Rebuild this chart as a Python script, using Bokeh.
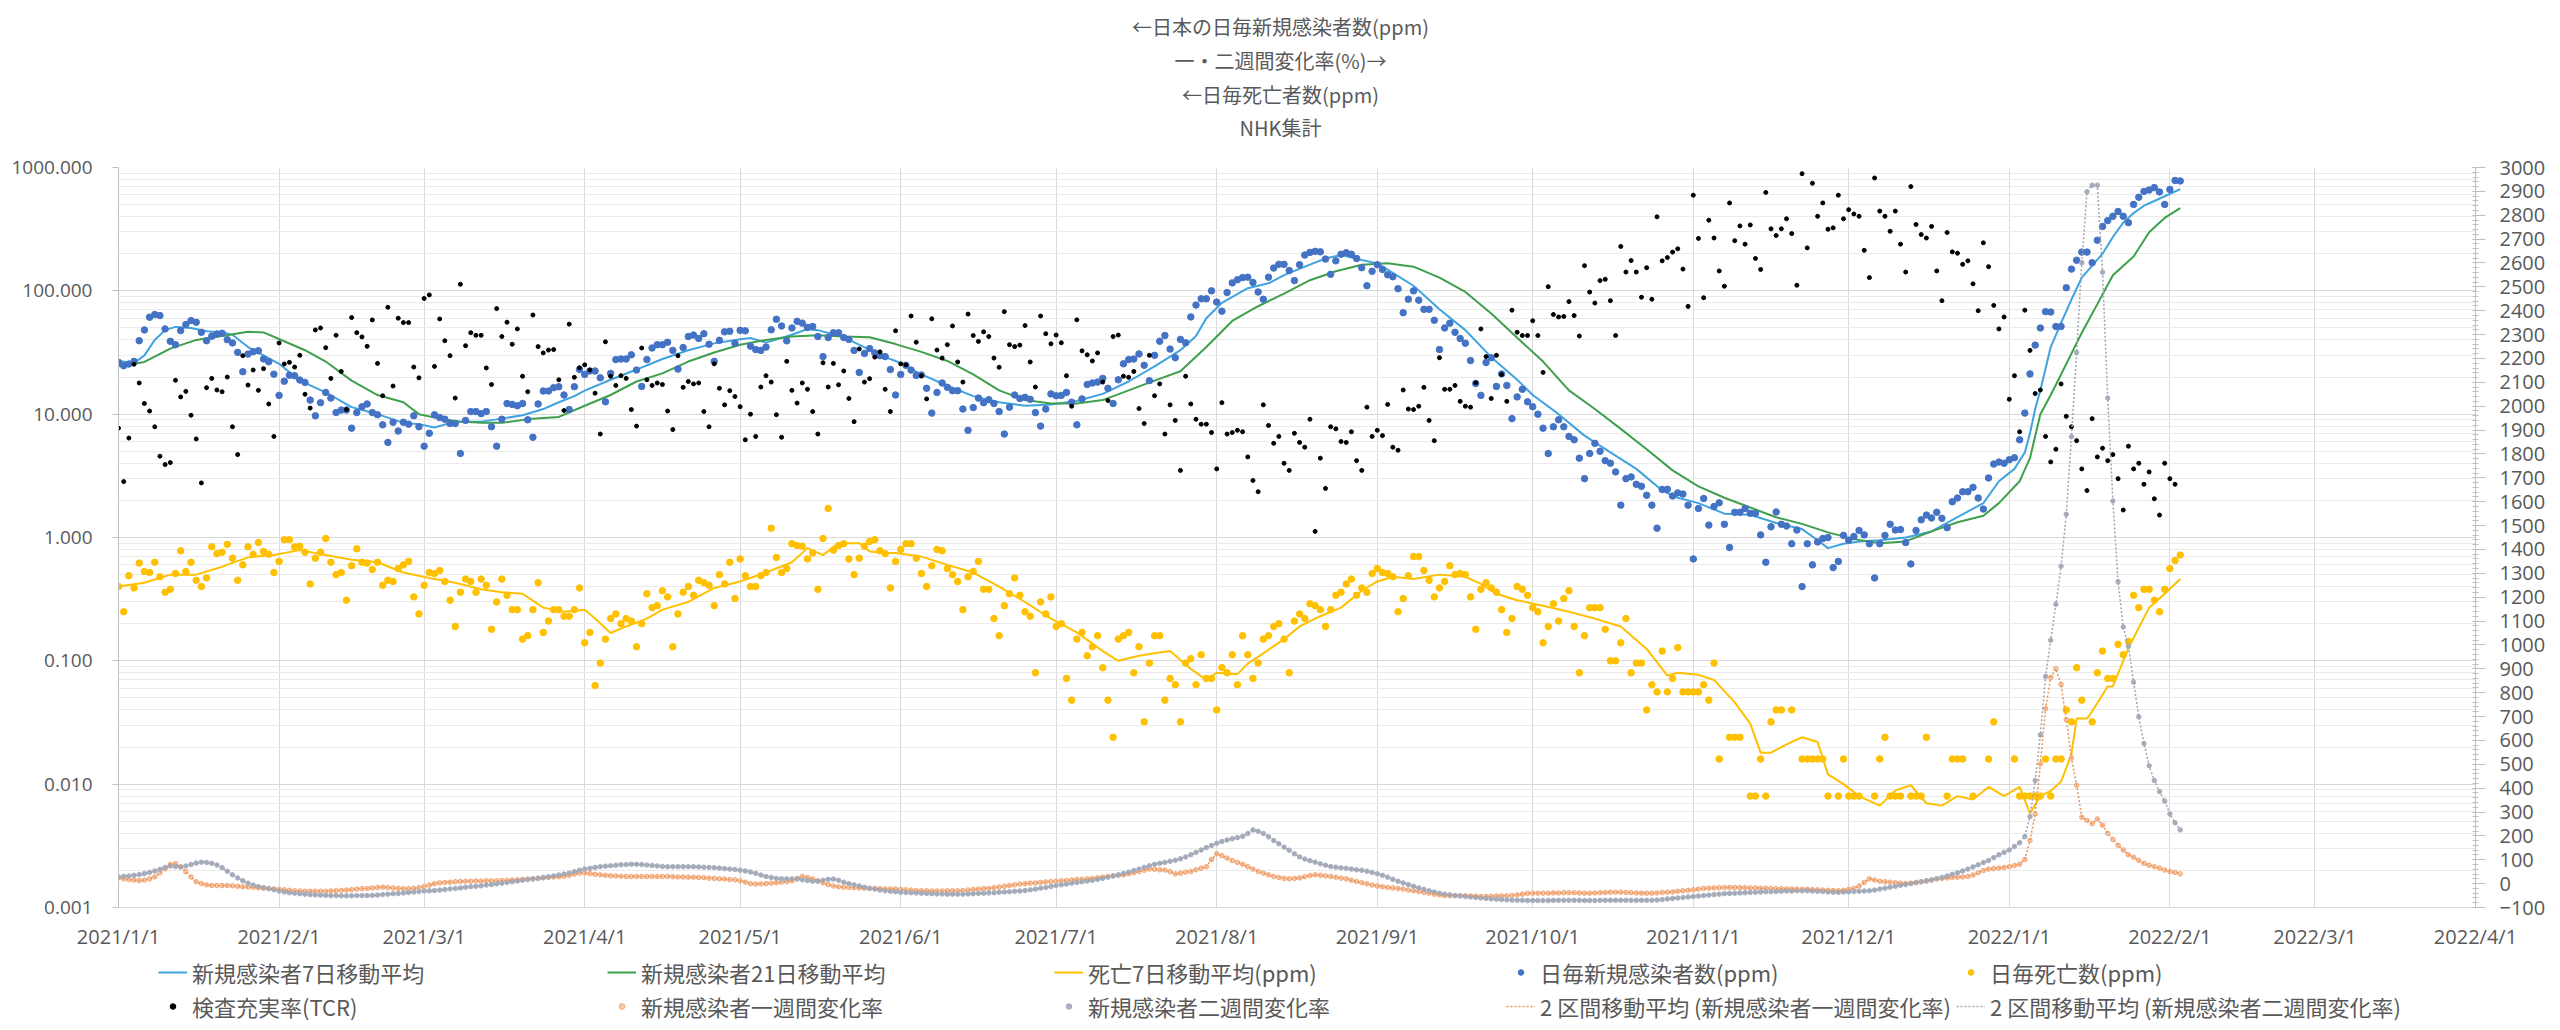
from datetime import date
import numpy as np
from bokeh.plotting import figure
from bokeh.layouts import column
from bokeh.core.properties import value
from bokeh.models import (Range1d, LinearAxis, LinearScale, FixedTicker, PrintfTickFormatter,
                          Legend, LegendItem)
from bokeh.embed import file_html
from bokeh.resources import INLINE

nan = float("nan")

# ---------------- data (day 0 = 2021/1/1) ----------------
month_labels = ["2021/1/1", "2021/2/1", "2021/3/1", "2021/4/1", "2021/5/1", "2021/6/1",
                "2021/7/1", "2021/8/1", "2021/9/1", "2021/10/1", "2021/11/1", "2021/12/1",
                "2022/1/1", "2022/2/1", "2022/3/1", "2022/4/1"]

title_lines = ["←日本の日毎新規感染者数(ppm)", "一・二週間変化率(%)→", "←日毎死亡者数(ppm)", "NHK集計"]

# 日毎新規感染者数(ppm)
cases = [
    26.3, 24.7, 25.5, 26.8, 39.4, 48.2, 61.1, 64.2, 63, 49.1,
    39, 36.6, 47.6, 53.3, 57.4, 55.6, 46.1, 39.4, 42.8, 44.7,
    45.3, 40.2, 37.8, 31.7, 22.1, 30.7, 32.1, 32.7, 28, 26.6,
    21.1, 14.2, 18.5, 20.7, 20.5, 18.9, 18.1, 13, 9.7, 12.4,
    15, 13.5, 10.3, 10.8, 10.8, 7.7, 10.3, 11.5, 12.1, 10.3,
    9.9, 8.2, 5.9, 8.6, 7.3, 8.6, 8.3, 9.7, 7.9, 5.5,
    7.0, 9.9, 9.4, 9.1, 8.4, 8.4, 4.8, 8.9, 10.5, 10.5,
    10.1, 10.5, 7.9, 5.5, 9.1, 12.2, 12.0, 11.7, 12.2, 9.0,
    6.5, 12.1, 15.4, 15.4, 16.4, 16.7, 14.3, 10.9, 16.7, 23,
    21, 22.4, 22.4, 19.7, 12.6, 21.4, 27.7, 28, 28, 30.3,
    22.8, 16.8, 27.7, 34.4, 36.6, 36.6, 38.3, 32.9, 23.2, 34.7,
    42.6, 43.8, 41.1, 44.9, 36.9, 26.8, 39.7, 46.5, 47, 37.6,
    47.8, 47.4, 35.6, 33.4, 32.9, 35, 48.3, 58.8, 51.9, 39.3,
    50, 56.6, 54.7, 50.5, 51.4, 42.6, 29.3, 41.8, 45.7, 45.7,
    41.8, 40.4, 32.9, 21.8, 31.1, 34, 31.4, 29.8, 29.3, 23,
    14.3, 21, 24.9, 22.8, 20.6, 20.8, 16.2, 10.2, 15, 17.9,
    16.5, 15.5, 15.5, 11.0, 7.4, 11.3, 13.5, 12.4, 13.1, 12.2,
    10.5, 6.9, 11.4, 14.3, 13.4, 13.7, 13.2, 10.3, 8.0, 11.0,
    14.6, 14.1, 14.2, 15, 12.5, 8.2, 13.3, 17.4, 17.9, 18.2,
    19.5, 16.2, 12.2, 19, 25.6, 27.7, 28, 30.8, 24.9, 18.7,
    30, 39, 43.4, 33.7, 28.7, 40.4, 37.9, 61.4, 76.7, 86.2,
    86.2, 100, 81, 68.4, 96.9, 116, 123, 128, 129, 117,
    97.8, 85.5, 129, 153, 164, 164, 146, 121, 163, 195,
    205, 209, 207, 181, 136, 175, 198, 204, 198, 183,
    154, 110, 144, 163, 149, 135, 130, 104, 66.5, 85.5,
    100, 84, 70.8, 70.8, 57.7, 33.4, 50, 54.7, 46.1, 41.1,
    37.6, 27.2, 17.7, 14.2, 26.2, 28.7, 16.8, 21.2, 17.1, 9.2,
    13.8, 15.9, 12.6, 11.5, 10, 7.7, 4.8, 7.9, 9.0, 7.9,
    6.6, 6.2, 4.4, 3.0, 4.8, 5.8, 5.0, 4.2, 4.0, 3.4,
    1.83, 3.0, 3.1, 2.7, 2.6, 2.2, 1.83, 1.19, 2.45, 2.46,
    2.17, 2.3, 2.25, 1.83, 0.67, 1.72, 2.07, 1.26, 1.78, 1.91,
    1.28, 0.83, 1.6, 1.6, 1.72, 1.57, 1.57, 1.05, 0.63, 1.22,
    1.61, 1.28, 1.24, 0.89, 1.15, 0.40, 0.89, 0.60, 0.92, 0.98,
    1.0, 0.57, 0.64, 1.04, 0.95, 1.02, 1.14, 1.05, 0.89, 0.47,
    0.89, 1.04, 1.28, 1.15, 1.16, 0.91, 0.61, 1.14, 1.39, 1.52,
    1.44, 1.6, 1.43, 1.2, 1.95, 2.09, 2.35, 2.35, 2.55, 2.09,
    1.70, 3.04, 3.94, 4.09, 4.0, 4.27, 4.43, 6.2, 10.2, 21.2,
    36.3, 50, 67.8, 67.3, 51.4, 51.4, 106, 150, 177, 206,
    206, 169, 257, 333, 371, 402, 440, 402, 357, 502,
    574, 640, 657, 687, 634, 502, 663, 785, 778,
]

# 日毎死亡数(ppm)
deaths = [
    0.40, 0.25, 0.49, 0.39, 0.62, 0.53, 0.52, 0.63, 0.48, 0.36,
    0.38, 0.51, 0.78, 0.53, 0.63, 0.45, 0.40, 0.47, 0.84, 0.74,
    0.76, 0.88, 0.68, 0.45, 0.60, 0.84, 0.73, 0.91, 0.77, 0.73,
    0.52, 0.64, 0.96, 0.96, 0.84, 0.85, 0.76, 0.42, 0.68, 0.76,
    0.98, 0.63, 0.50, 0.52, 0.31, 0.59, 0.81, 0.63, 0.62, 0.55,
    0.63, 0.41, 0.45, 0.44, 0.56, 0.60, 0.64, 0.33, 0.24, 0.41,
    0.52, 0.51, 0.54, 0.44, 0.31, 0.19, 0.36, 0.46, 0.44, 0.36,
    0.46, 0.41, 0.18, 0.30, 0.46, 0.34, 0.26, 0.26, 0.15, 0.16,
    0.26, 0.43, 0.17, 0.21, 0.26, 0.26, 0.23, 0.23, 0.26, 0.39,
    0.14, 0.17, 0.063, 0.096, 0.15, 0.22, 0.24, 0.20, 0.22, 0.21,
    0.13, 0.20, 0.35, 0.27, 0.28, 0.37, 0.33, 0.13, 0.24, 0.36,
    0.40, 0.34, 0.45, 0.43, 0.41, 0.28, 0.50, 0.42, 0.63, 0.32,
    0.67, 0.49, 0.40, 0.40, 0.49, 0.52, 1.19, 0.69, 0.52, 0.56,
    0.89, 0.86, 0.85, 0.67, 0.75, 0.38, 0.98, 1.72, 0.79, 0.86,
    0.89, 0.67, 0.50, 0.68, 0.85, 0.93, 0.96, 0.78, 0.74, 0.39,
    0.64, 0.80, 0.89, 0.89, 0.68, 0.51, 0.40, 0.59, 0.80, 0.78,
    0.56, 0.50, 0.44, 0.26, 0.48, 0.53, 0.64, 0.38, 0.38, 0.22,
    0.16, 0.28, 0.35, 0.47, 0.34, 0.25, 0.23, 0.08, 0.30, 0.24,
    0.33, 0.19, 0.20, 0.072, 0.048, 0.15, 0.17, 0.11, 0.13, 0.16,
    0.088, 0.048, 0.024, 0.15, 0.16, 0.17, 0.08, 0.13, 0.032, 0.096,
    0.16, 0.16, 0.048, 0.072, 0.064, 0.032, 0.096, 0.104, 0.064, 0.112,
    0.072, 0.072, 0.040, 0.088, 0.08, 0.112, 0.064, 0.16, 0.112, 0.072,
    0.096, 0.15, 0.16, 0.19, 0.20, 0.15, 0.08, 0.21, 0.24, 0.22,
    0.29, 0.28, 0.26, 0.19, 0.26, 0.34, 0.36, 0.42, 0.46, 0.34,
    0.39, 0.36, 0.51, 0.56, 0.52, 0.51, 0.48, 0.25, 0.32, 0.49,
    0.70, 0.70, 0.54, 0.45, 0.33, 0.39, 0.44, 0.59, 0.50, 0.51,
    0.50, 0.33, 0.18, 0.38, 0.43, 0.39, 0.36, 0.26, 0.17, 0.22,
    0.40, 0.38, 0.34, 0.27, 0.25, 0.14, 0.19, 0.29, 0.21, 0.32,
    0.37, 0.19, 0.08, 0.16, 0.27, 0.27, 0.27, 0.18, 0.10, 0.10,
    0.14, 0.22, 0.08, 0.096, 0.096, 0.040, 0.064, 0.056, 0.12, 0.056,
    0.072, 0.128, 0.056, 0.056, 0.056, 0.056, 0.064, 0.048, 0.096, 0.016,
    nan, 0.024, 0.024, 0.024, nan, 0.008, 0.008, 0.016, 0.008, 0.032,
    0.04, 0.04, nan, 0.04, nan, 0.016, 0.016, 0.016, 0.016, 0.016,
    0.008, nan, 0.008, 0.016, 0.008, 0.008, 0.008, nan, nan, 0.008,
    0.016, 0.024, 0.008, 0.008, 0.008, nan, 0.008, 0.008, 0.008, 0.024,
    nan, nan, nan, 0.008, 0.016, 0.016, 0.016, nan, 0.008, nan,
    nan, 0.016, 0.032, nan, nan, nan, 0.016, 0.008, 0.008, 0.008,
    0.008, 0.008, 0.016, 0.008, 0.016, 0.016, 0.04, 0.032, 0.088, 0.048,
    nan, 0.032, 0.08, 0.12, 0.072, 0.072, 0.136, 0.112, 0.144, 0.34,
    0.27, 0.38, 0.38, 0.31, 0.25, 0.38, 0.56, 0.65, 0.72,
]

# 検査充実率(TCR)
tcr = [
    7.7, 2.84, 6.4, 25.4, 17.9, 12.2, 10.6, 7.9, 4.56, 3.9,
    4.05, 18.8, 13.8, 15.3, 9.8, 6.3, 2.77, 16.4, 19.5, 15.7,
    15.2, 20, 7.9, 4.7, 29.8, 17.2, 22.8, 15.6, 23.4, 12.1,
    6.6, 37.8, 25.5, 26.3, 24.1, 30, 14.5, 11.2, 48.2, 50,
    34.6, 19.5, 43.6, 22.2, 10.9, 60.7, 45.8, 42.3, 35.5, 58.1,
    25.8, 14.1, 73.6, 16.9, 60, 55.3, 55.3, 24.1, 19.7, 86.7,
    92.7, 24.4, 59.2, 39.4, 29.8, 13.5, 113, 35.9, 45.8, 43.6,
    43.6, 23.7, 17.4, 71.8, 42.6, 55.7, 36.9, 49.1, 20.3, 15.2,
    63.7, 35.3, 31.4, 33.1, 33.4, 19, 10.7, 53.7, 19.9, 23.8,
    25.1, 22.8, 14.8, 6.9, 38.6, 20.3, 17.1, 20.5, 19.5, 10.9,
    8.0, 34.4, 19, 17.1, 17.9, 17.4, 10.6, 7.5, 29.8, 16.5,
    18.4, 17.6, 17.9, 10.5, 7.9, 25.6, 16.2, 11.9, 15.5, 13.9,
    11.5, 6.2, 10, 6.6, 16.6, 20.5, 18.2, 9.9, 6.5, 26.8,
    15.6, 12.3, 17.9, 15.9, 10.5, 6.9, 26.1, 16.6, 25.8, 17.3,
    22.4, 13.4, 8.7, 33.8, 18.2, 19.4, 29, 32, 15.9, 10.5,
    47.4, 25.6, 25.1, 62.5, 38.3, 20.5, 13.3, 59.3, 33.1, 28.5,
    36.6, 51.9, 26.5, 18.2, 64.8, 43.4, 38.9, 46.5, 42.6, 28.5,
    24, 67.8, 36.6, 35.3, 36.3, 52.3, 26.5, 16.6, 62.5, 44.9,
    37.2, 43.8, 37.9, 20.5, 11.6, 58.2, 32.6, 30.3, 27, 31.4,
    18.2, 12.9, 42.6, 43.8, 20.3, 19.9, 22.2, 11.1, 8.4, 30,
    14.1, 17.6, 6.9, 11.9, 8.9, 3.5, 20.3, 12.1, 9.1, 8.3,
    8.3, 7.1, 3.6, 12.4, 6.9, 7.1, 7.4, 7.2, 4.5, 2.9,
    2.35, 11.9, 8.1, 5.8, 6.6, 4.0, 3.5, 7.0, 5.9, 5.4,
    9.1, 1.12, 4.4, 2.5, 7.9, 7.6, 6.0, 5.9, 7.2, 4.2,
    3.5, 11.4, 6.6, 7.4, 6.7, 12, 5.4, 5.1, 15.7, 11,
    10.9, 11.6, 16.5, 8.9, 6.1, 28.7, 15.9, 15.9, 17.1, 12.7,
    11.6, 11.4, 18, 49.1, 29.3, 13.4, 30, 21, 12.7, 69.7,
    46.1, 43.4, 43.4, 57.2, 43.4, 21.8, 108, 64.3, 61.4, 62,
    81.8, 63, 43, 160, 97.7, 79.6, 121, 124, 83.2, 43.4,
    229, 142, 176, 142, 88.8, 154, 85.5, 398, 175, 186,
    206, 219, 150, 74.8, 596, 266, 87.9, 374, 268, 145,
    109, 516, 255, 336, 239, 342, 183, 149, 628, 318,
    281, 318, 384, 291, 111, 891, 223, 745, 402, 516,
    316, 324, 596, 384, 455, 420, 402, 213, 128, 822,
    443, 402, 304, 443, 239, 142, 700, 345, 286, 268,
    333, 145, 83.2, 297, 207, 202, 164, 175, 114, 69,
    245, 157, 76.2, 49.1, 61.4, 13.2, 20.5, 7.2, 69.7, 32.9,
    14.7, 15.7, 6.6, 4.1, 5.2, 17.6, 9.6, 7.9, 6.1, 3.6,
    2.4, 9.2, 4.5, 5.3, 4.2, 4.7, 3.0, 1.67, 5.5, 3.6,
    4.0, 2.7, 3.4, 2.06, 1.52, 4.0, 3.0, 2.7, nan,
]

# 新規感染者一週間変化率 (%)
rate1w = [
    24, 20, 17, 15, 13, 15, 20, 28, 45, 62,
    80, 84, 70, 50, 28, 8, 0, -5, -8, -8,
    -8, -8, -9, -11, -13, -14, -16, -17, -19, -20,
    -22, -24, -26, -28, -30, -31, -32, -32, -32, -32,
    -32, -31, -30, -28, -27, -25, -23, -21, -20, -18,
    -16, -15, -16, -18, -20, -21, -21, -20, -17, -12,
    -6, 0, 3, 5, 6, 8, 9, 10, 10, 11,
    11, 12, 12, 12, 13, 14, 15, 16, 18, 19,
    20, 22, 24, 26, 28, 29, 31, 35, 40, 44,
    45, 42, 39, 37, 35, 33, 32, 31, 30, 30,
    30, 30, 30, 30, 30, 30, 30, 29, 28, 28,
    27, 27, 26, 25, 23, 22, 20, 19, 17, 16,
    12, 6, 0, -2, -1, 0, 2, 4, 6, 8,
    12, 22, 30, 26, 20, 12, 4, -4, -10, -13,
    -15, -16, -17, -18, -19, -20, -20, -21, -22, -22,
    -23, -24, -26, -27, -29, -30, -30, -31, -31, -31,
    -30, -30, -30, -29, -27, -25, -23, -21, -20, -17,
    -14, -11, -8, -5, -2, 0, 2, 3, 5, 7,
    9, 10, 12, 13, 15, 17, 18, 20, 22, 25,
    27, 30, 33, 35, 37, 41, 46, 51, 56, 61,
    60, 58, 57, 50, 41, 44, 48, 51, 58, 65,
    71, 101, 125, 117, 107, 97, 89, 81, 71, 61,
    51, 44, 37, 30, 26, 22, 20, 22, 24, 29,
    34, 37, 35, 32, 30, 27, 23, 20, 14, 9,
    4, -1, -6, -10, -13, -16, -18, -20, -23, -27,
    -30, -33, -37, -40, -44, -47, -50, -50, -50, -50,
    -51, -52, -53, -54, -54, -53, -52, -52, -51, -50,
    -47, -44, -41, -40, -40, -40, -40, -39, -39, -38,
    -38, -38, -39, -40, -40, -39, -38, -37, -36, -36,
    -36, -37, -38, -39, -40, -40, -40, -39, -37, -36,
    -35, -32, -30, -28, -26, -23, -20, -19, -18, -17,
    -16, -16, -16, -17, -17, -18, -18, -19, -19, -20,
    -21, -21, -22, -22, -23, -24, -24, -25, -26, -27,
    -28, -29, -30, -28, -24, -20, -10, 5, 20, 15,
    10, 8, 6, 4, 2, 0, 2, 5, 8, 11,
    15, 20, 22, 24, 26, 27, 28, 30, 36, 46,
    55, 61, 63, 65, 68, 71, 76, 81, 101, 181,
    292, 502, 733, 864, 900, 834, 687, 526, 412, 278,
    265, 251, 271, 245, 211, 185, 161, 141, 121, 111,
    97, 85, 77, 71, 65, 57, 51, 47, 41,
]

# 新規感染者二週間変化率 (%)
rate2w = [
    28, 30, 32, 35, 38, 42, 47, 53, 60, 68,
    74, 72, 70, 74, 80, 86, 90, 89, 85, 78,
    67, 52, 37, 24, 12, 2, -6, -12, -17, -21,
    -26, -31, -35, -38, -40, -42, -44, -46, -47, -48,
    -49, -50, -50, -51, -51, -51, -50, -50, -50, -49,
    -48, -46, -44, -42, -41, -39, -37, -35, -33, -31,
    -30, -29, -27, -25, -22, -20, -18, -15, -13, -11,
    -9, -6, -4, -1, 2, 5, 8, 11, 14, 17,
    20, 23, 26, 29, 32, 36, 40, 44, 50, 56,
    61, 64, 68, 71, 73, 75, 77, 79, 80, 81,
    81, 80, 78, 76, 74, 72, 71, 71, 71, 71,
    71, 71, 70, 69, 68, 67, 65, 63, 61, 59,
    56, 53, 49, 43, 36, 30, 26, 22, 20, 20,
    20, 19, 16, 13, 10, 10, 14, 18, 19, 14,
    6, 0, -5, -10, -15, -20, -23, -27, -30, -32,
    -34, -36, -37, -38, -39, -40, -41, -42, -43, -43,
    -44, -44, -44, -44, -43, -42, -41, -40, -39, -38,
    -36, -35, -34, -32, -31, -29, -26, -23, -19, -16,
    -12, -8, -5, -2, 2, 5, 8, 11, 14, 18,
    22, 27, 32, 37, 42, 48, 55, 61, 68, 75,
    81, 85, 89, 94, 98, 104, 112, 121, 131, 141,
    151, 160, 169, 177, 183, 188, 193, 198, 210, 225,
    219, 210, 196, 181, 167, 153, 140, 125, 112, 103,
    96, 90, 83, 77, 72, 69, 66, 64, 61, 58,
    56, 52, 47, 41, 35, 27, 18, 10, 3, -4,
    -11, -18, -24, -30, -35, -40, -44, -47, -50, -52,
    -54, -56, -58, -60, -62, -64, -65, -67, -68, -69,
    -70, -70, -71, -71, -71, -71, -71, -70, -70, -70,
    -70, -70, -70, -71, -71, -71, -70, -70, -70, -70,
    -70, -70, -70, -70, -70, -70, -70, -69, -67, -64,
    -62, -60, -58, -56, -54, -52, -50, -48, -46, -44,
    -42, -41, -40, -39, -38, -37, -36, -35, -34, -34,
    -33, -32, -31, -31, -30, -30, -30, -31, -32, -33,
    -35, -36, -36, -35, -34, -33, -32, -31, -30, -27,
    -23, -19, -15, -11, -7, -4, 0, 4, 8, 12,
    16, 20, 26, 32, 39, 46, 53, 61, 70, 79,
    88, 97, 109, 121, 131, 141, 156, 171, 197, 281,
    432, 623, 868, 1020, 1170, 1330, 1547, 1872, 2225, 2601,
    2898, 2926, 2926, 2561, 2034, 1603, 1265, 1075, 994, 844,
    699, 587, 494, 432, 386, 346, 292, 255, 225,
]

# 新規感染者7日移動平均 (day, ppm)
ma7_days = [0, 3, 5, 7, 9, 11, 14, 17, 20, 22, 25, 28, 31, 35, 40, 45, 50, 55, 58, 61,
            65, 70, 74, 78, 82, 85, 88, 90, 95, 100, 105, 110, 115, 120, 122, 125, 130, 133,
            135, 140, 145, 148, 150, 155, 160, 165, 170, 175, 180, 185, 190, 195, 200, 205,
            208, 210, 213, 218, 222, 225, 230, 233, 236, 240, 243, 246, 250, 255, 260, 265,
            270, 273, 278, 283, 288, 293, 298, 301, 305, 310, 315, 320, 325, 328, 330, 333,
            336, 340, 345, 350, 355, 360, 363, 366, 368, 369, 370, 371, 373, 375, 377, 379,
            381, 383, 385, 387, 389, 391, 393, 395, 398]
ma7 = [27, 26, 30, 40, 48, 51, 50, 47, 46, 44, 35, 30, 25.6, 18.7, 15, 11.4, 10, 8.5, 8.3, 7.8,
       8.7, 8.7, 9.2, 9.8, 11, 12.5, 14, 15.5, 19, 23, 28, 33, 37.5, 40.5, 41.5, 38, 44, 49,
       48, 42, 33.4, 29, 27, 21, 17, 14, 12.5, 11.7, 12, 12.8, 14.6, 18.4, 24.4, 33,
       43, 60, 80, 105, 115, 134, 163, 183, 195, 178, 167, 140, 110, 71, 48, 29,
       19, 14.3, 10, 6.7, 4.9, 3.6, 2.4, 2.1, 1.9, 1.56, 1.53, 1.31, 1.17, 0.95, 0.82, 0.89,
       0.93, 0.95, 1.0, 1.12, 1.46, 1.9, 2.86, 3.6, 4.9, 7, 11, 15.6, 35, 55, 85, 128,
       160, 200, 273, 357, 427, 490, 535, 585, 668]

# 新規感染者21日移動平均 (day, ppm)
ma21_days = [0, 5, 10, 15, 20, 25, 28, 32, 36, 40, 45, 50, 55, 58, 62, 66, 70, 74, 80, 85,
             90, 95, 100, 105, 110, 115, 120, 125, 130, 135, 140, 145, 148, 150, 155, 160,
             165, 170, 175, 180, 185, 190, 195, 200, 205, 210, 215, 220, 225, 230, 235, 240,
             245, 250, 255, 260, 265, 270, 275, 280, 285, 290, 295, 300, 305, 310, 315, 320,
             325, 330, 335, 340, 345, 350, 355, 360, 363, 367, 369, 371, 373, 375, 379, 382,
             385, 389, 392, 395, 398]
ma21 = [24.4, 26.5, 34, 40, 43, 46.5, 46, 39, 33, 26.7, 18.7, 14.3, 12.5, 10, 9.2, 8.7, 8.5, 8.5, 9.2, 9.5,
        11.7, 14.3, 18.4, 21.4, 26.7, 31.6, 36.6, 40, 42.6, 43.7, 42.6, 42, 39, 37, 32, 27,
        21, 15.6, 13, 12.2, 12.2, 13, 15.6, 18.7, 22.3, 35, 57, 75, 95, 122, 144, 163,
        167, 157, 128, 98, 65.5, 41.7, 26.7, 15.6, 11, 7.6, 5.2, 3.5, 2.6, 2.1, 1.75, 1.46,
        1.29, 1.1, 0.97, 0.9, 0.93, 1.12, 1.33, 1.5, 1.9, 2.86, 4.4, 10, 14.3, 21, 45.7, 78,
        134, 190, 299, 390, 468]

# 死亡7日移動平均(ppm) (day, ppm)
dma7_days = [0, 5, 10, 15, 20, 25, 30, 35, 40, 45, 50, 55, 60, 65, 70, 74, 78, 82, 86, 90,
             92, 95, 98, 102, 105, 110, 115, 120, 125, 130, 133, 136, 139, 143, 145, 148, 150,
             155, 160, 165, 170, 175, 180, 185, 190, 193, 197, 200, 203, 207, 210, 212, 216,
             218, 221, 225, 228, 232, 236, 240, 243, 246, 250, 255, 260, 263, 266, 270, 275,
             280, 285, 290, 295, 299, 301, 305, 308, 312, 315, 317, 319, 321, 323, 325, 328,
             330, 333, 336, 340, 343, 346, 349, 352, 355, 358, 361, 364, 367, 369, 371, 373,
             375, 377, 378, 380, 381, 384, 385, 388, 392, 395, 398]
dma7 = [0.40, 0.43, 0.5, 0.5, 0.58, 0.69, 0.72, 0.79, 0.72, 0.66, 0.63, 0.52, 0.47, 0.43, 0.38, 0.36, 0.35, 0.27, 0.25, 0.26,
        0.22, 0.168, 0.19, 0.22, 0.26, 0.3, 0.39, 0.44, 0.52, 0.63, 0.82, 0.72, 0.9, 0.9, 0.77, 0.75, 0.75,
        0.7, 0.6, 0.52, 0.4, 0.3, 0.22, 0.17, 0.12, 0.1, 0.11, 0.115, 0.12, 0.086, 0.07, 0.08, 0.078,
        0.095, 0.115, 0.15, 0.19, 0.23, 0.27, 0.37, 0.44, 0.48, 0.46, 0.5, 0.48, 0.42, 0.35, 0.31, 0.28,
        0.25, 0.22, 0.19, 0.125, 0.076, 0.08, 0.077, 0.07, 0.046, 0.031, 0.018, 0.018, 0.02, 0.022, 0.024, 0.022,
        0.012, 0.01, 0.008, 0.0067, 0.0089, 0.0098, 0.007, 0.0067, 0.008, 0.0075, 0.0095, 0.008, 0.0095, 0.0058, 0.008, 0.0088,
        0.0105, 0.0175, 0.034, 0.034, 0.039, 0.062, 0.062, 0.127, 0.27, 0.35, 0.46]

N = 399
for arr in (cases, deaths, tcr, rate1w, rate2w):
    assert len(arr) == N, len(arr)
assert len(ma7_days) == len(ma7), (len(ma7_days), len(ma7))
assert len(ma21_days) == len(ma21), (len(ma21_days), len(ma21))
assert len(dma7_days) == len(dma7), (len(dma7_days), len(dma7))

# ---------------- layout constants (page pixels) ----------------
def day_of(label):
    y, m, d = (int(s) for s in label.split("/"))
    return (date(y, m, d) - date(2021, 1, 1)).days

month_days = [day_of(s) for s in month_labels]
days = np.arange(N)

FONT_NUM = "Open Sans"
FONT_JP = "Noto Sans CJK JP"
TXT = "#595959"
GRID = "#D9D9D9"
AXIS = "#BFBFBF"

W = 2560
TITLE_H = 152           # top strip holding the four title lines
FRAME_L, FRAME_R = 118, 2475
FRAME_T, FRAME_B = 167, 907
MAIN_BOTTOM = 957       # page y where the main figure ends
LEG_H = 1030 - MAIN_BOTTOM
BL, BR = FRAME_L, W - FRAME_R   # shared left / right borders (frames line up)

C_MA7 = "#3FA3E0"
C_MA21 = "#3E9F4C"
C_Y = "#FFC000"
C_BLUE = "#4472C4"
C_GRAY = "#A7AFBF"
C_OR_FILL = "#F8CBAD"
C_OR_LINE = "#F2A470"
C_T1 = "#E8935A"
C_T2 = "#9EA3AD"

# ---------------- title strip ----------------
pt = figure(width=W, height=TITLE_H, x_range=Range1d(FRAME_L, FRAME_R), y_range=Range1d(0, TITLE_H),
            output_backend="svg", toolbar_location=None,
            min_border_left=BL, min_border_right=BR, min_border_top=0, min_border_bottom=0,
            x_axis_location=None, y_axis_location=None)
pt.outline_line_color = None
pt.grid.grid_line_color = None
title_centers = [26, 60, 94, 127]
pt.text(x=[1280] * 4, y=[TITLE_H - c for c in title_centers], text=title_lines,
        text_font=value(FONT_JP), text_font_size=value("20px"), text_color=TXT,
        text_align="center", text_baseline="middle")

# ---------------- main chart ----------------
main_h = MAIN_BOTTOM - TITLE_H
p = figure(width=W, height=main_h, y_axis_type="log",
           x_range=Range1d(0, month_days[-1]), y_range=Range1d(0.001, 1000),
           output_backend="svg", toolbar_location=None,
           min_border_left=BL, min_border_right=BR,
           min_border_top=FRAME_T - TITLE_H, min_border_bottom=MAIN_BOTTOM - FRAME_B)
p.outline_line_color = None
p.extra_y_ranges = {"rate": Range1d(-100, 3000)}
p.extra_y_scales = {"rate": LinearScale()}

xa = p.xaxis[0]
xa.ticker = FixedTicker(ticks=month_days)
xa.major_label_overrides = {d: s for d, s in zip(month_days, month_labels)}
xa.axis_line_color = GRID
xa.major_tick_in = 0
xa.major_tick_out = 0
xa.minor_tick_line_color = None
xa.major_label_standoff = 15
xa.major_label_text_font = FONT_NUM
xa.major_label_text_font_size = "20px"
xa.major_label_text_color = TXT
p.xgrid.grid_line_color = GRID

decades = [0.001, 0.01, 0.1, 1, 10, 100, 1000]
minor = [k * d for d in decades[:-1] for k in range(2, 10)]
ya = p.yaxis[0]
ya.ticker = FixedTicker(ticks=decades, minor_ticks=minor)
ya.formatter = PrintfTickFormatter(format="%.3f")
ya.axis_line_color = AXIS
ya.major_tick_line_color = AXIS
ya.major_tick_in = 0
ya.major_tick_out = 6
ya.minor_tick_line_color = None
ya.major_label_standoff = 20
ya.major_label_text_font = FONT_NUM
ya.major_label_text_font_size = "19px"
ya.major_label_text_color = TXT
p.ygrid.grid_line_color = GRID
p.ygrid.minor_grid_line_color = "#EAEAEA"

ra = LinearAxis(y_range_name="rate",
                ticker=FixedTicker(ticks=list(range(-100, 3001, 100)),
                                   minor_ticks=list(range(-100, 3001, 20))))
ra.axis_line_color = AXIS
ra.major_tick_line_color = AXIS
ra.minor_tick_line_color = AXIS
ra.major_tick_in = 3
ra.major_tick_out = 10
ra.minor_tick_in = 3
ra.minor_tick_out = 3
ra.major_label_standoff = 14
ra.major_label_text_font = FONT_NUM
ra.major_label_text_font_size = "20px"
ra.major_label_text_color = TXT
p.add_layout(ra, "right")

p.line(ma7_days, ma7, line_color=C_MA7, line_width=2)
p.line(ma21_days, ma21, line_color=C_MA21, line_width=2)
p.line(dma7_days, dma7, line_color=C_Y, line_width=2)
p.scatter(days, np.array(cases, float), size=6.5, fill_color=C_BLUE, line_color=C_BLUE)
p.scatter(days, np.array(deaths, float), size=6.5, fill_color=C_Y, line_color=C_Y)
p.scatter(days, np.array(tcr, float), size=4, fill_color="black", line_color="black")
p.scatter(days, rate1w, size=4.5, fill_color=C_OR_FILL, line_color=C_OR_LINE,
          line_width=1, y_range_name="rate")
p.scatter(days, rate2w, size=4.5, fill_color=C_GRAY, line_color=C_GRAY, y_range_name="rate")
p.line(days, rate1w, line_color=C_T1, line_width=1.5, line_dash="2 2", y_range_name="rate")
p.line(days, rate2w, line_color=C_T2, line_width=1.5, line_dash="2 2", y_range_name="rate")

# ---------------- legend strip ----------------
pl = figure(width=W, height=LEG_H, x_range=Range1d(FRAME_L, FRAME_R), y_range=Range1d(0, LEG_H),
            output_backend="svg", toolbar_location=None,
            min_border_left=BL, min_border_right=BR, min_border_top=0, min_border_bottom=0,
            x_axis_location=None, y_axis_location=None)
pl.outline_line_color = None
pl.grid.grid_line_color = None
off = [-500, -490]
g_ma7 = pl.line(off, off, line_color=C_MA7, line_width=2)
g_ma21 = pl.line(off, off, line_color=C_MA21, line_width=2)
g_dma7 = pl.line(off, off, line_color=C_Y, line_width=2)
g_cases = pl.scatter(off, off, size=6.5, fill_color=C_BLUE, line_color=C_BLUE)
g_deaths = pl.scatter(off, off, size=6.5, fill_color=C_Y, line_color=C_Y)
g_tcr = pl.scatter(off, off, size=4, fill_color="black", line_color="black")
g_r1 = pl.scatter(off, off, size=4.5, fill_color=C_OR_FILL, line_color=C_OR_LINE)
g_r2 = pl.scatter(off, off, size=4.5, fill_color=C_GRAY, line_color=C_GRAY)
g_t1 = pl.line(off, off, line_color=C_T1, line_width=1.5, line_dash="2 2")
g_t2 = pl.line(off, off, line_color=C_T2, line_width=1.5, line_dash="2 2")

legend_rows = [
    [(g_ma7, "新規感染者7日移動平均"), (g_ma21, "新規感染者21日移動平均"),
     (g_dma7, "死亡7日移動平均(ppm)"), (g_cases, "日毎新規感染者数(ppm)"),
     (g_deaths, "日毎死亡数(ppm)")],
    [(g_tcr, "検査充実率(TCR)"), (g_r1, "新規感染者一週間変化率"),
     (g_r2, "新規感染者二週間変化率"), (g_t1, "2 区間移動平均 (新規感染者一週間変化率)"),
     (g_t2, "2 区間移動平均 (新規感染者二週間変化率)")],
]
text_starts = [192, 641, 1088, 1540, 1990]   # page x where the label text begins
row_centers = [972, 1006]                     # page y of each legend row centre
GW, STAND, ITEM_H = 29, 5, 32
for row, cy in zip(legend_rows, row_centers):
    for (r, lbl), tx in zip(row, text_starts):
        lx = (tx - GW - STAND) - FRAME_L       # relative to the strip's frame
        ly = (1030 - cy) - ITEM_H / 2
        lg = Legend(items=[LegendItem(label=lbl, renderers=[r])], location=(lx, ly),
                    orientation="horizontal", padding=0, margin=0, spacing=0,
                    border_line_alpha=0, background_fill_alpha=0,
                    label_text_font=FONT_JP, label_text_font_size="22px",
                    label_text_color=TXT, glyph_width=GW, glyph_height=14,
                    label_standoff=STAND, label_height=20)
        pl.add_layout(lg)

open("out.html", "w").write(file_html(column(pt, p, pl, spacing=0), INLINE))
